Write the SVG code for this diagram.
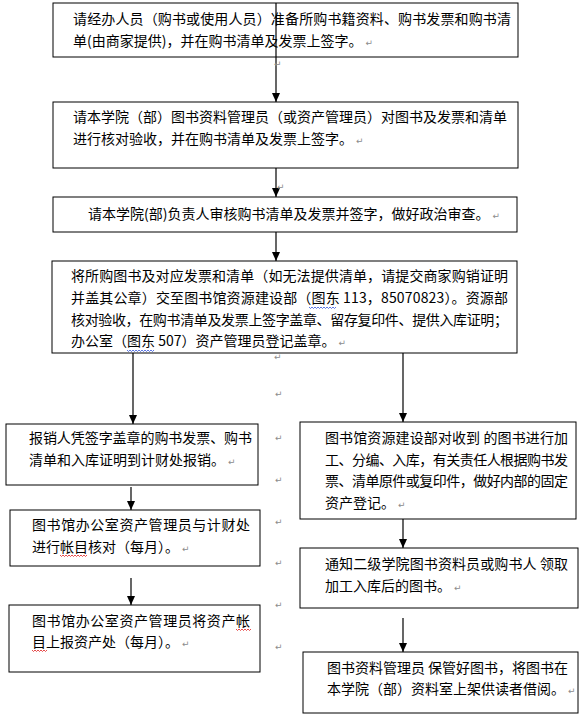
<svg xmlns="http://www.w3.org/2000/svg" width="580" height="717" viewBox="0 0 580 717">
<defs>
<style>
.box{fill:none;stroke:#000;stroke-width:1}
.t{font-family:"Noto Sans CJK SC","Liberation Sans",sans-serif;font-size:14px;fill:#000}
.pm{font-family:"DejaVu Sans",sans-serif;font-size:9px;fill:#8c8c8c}
.c{stroke:#000;stroke-width:1.2;fill:none}
.wb{stroke:#3355dd;stroke-width:0.8;fill:none}
.wr{stroke:#e02020;stroke-width:0.8;fill:none}
</style>
<marker id="ah" viewBox="0 0 9 8" markerUnits="userSpaceOnUse" markerWidth="9" markerHeight="8" refX="9" refY="4" orient="auto">
<path d="M0,0 L9,4 L0,8 z" fill="#000"/>
</marker>
</defs>
<rect width="580" height="717" fill="#fff"/>

<g id="connectors">
<line class="c" x1="276" y1="3" x2="276" y2="102" marker-end="url(#ah)"/>
<line class="c" x1="276" y1="168" x2="276" y2="197" marker-end="url(#ah)"/>
<line class="c" x1="276" y1="232" x2="276" y2="261" marker-end="url(#ah)"/>
<line class="c" x1="133" y1="353" x2="133" y2="424" marker-end="url(#ah)"/>
<line class="c" x1="403" y1="353" x2="403" y2="422" marker-end="url(#ah)"/>
<line class="c" x1="131" y1="487" x2="131" y2="510" marker-end="url(#ah)"/>
<line class="c" x1="131" y1="578" x2="131" y2="605" marker-end="url(#ah)"/>
<line class="c" x1="403" y1="519" x2="403" y2="548" marker-end="url(#ah)"/>
<line class="c" x1="403" y1="618" x2="403" y2="652" marker-end="url(#ah)"/>
</g>

<g id="marks">
<text class="pm" x="274" y="67">↵</text>
<text class="pm" x="277" y="190">↵</text>
<text class="pm" x="274" y="360">↵</text>
<text class="pm" x="275" y="397">↵</text>
<text class="pm" x="275" y="441">↵</text>
<text class="pm" x="275" y="483">↵</text>
<text class="pm" x="275" y="525">↵</text>
<text class="pm" x="275" y="566">↵</text>
<text class="pm" x="275" y="608">↵</text>
<text class="pm" x="275" y="650">↵</text>
</g>

<g id="n1">
<rect class="box" x="53" y="3" width="465" height="54"/>
<text class="t" x="73" y="24" textLength="438" lengthAdjust="spacing">请经办人员（购书或使用人员）准备所购书籍资料、购书发票和购书清</text>
<text class="t" x="73" y="46">单(由商家提供)，并在购书清单及发票上签字。<tspan class="pm" dx="3">↵</tspan></text>
</g>

<g id="n2">
<rect class="box" x="53" y="102" width="465" height="66"/>
<text class="t" x="73" y="122" textLength="434" lengthAdjust="spacing">请本学院（部）图书资料管理员（或资产管理员）对图书及发票和清单</text>
<text class="t" x="73" y="144">进行核对验收，并在购书清单及发票上签字。<tspan class="pm" dx="3">↵</tspan></text>
</g>

<g id="n3">
<rect class="box" x="53" y="197" width="464" height="35"/>
<text class="t" x="88" y="219">请本学院(部)负责人审核购书清单及发票并签字，做好政治审查。<tspan class="pm" dx="3">↵</tspan></text>
</g>

<g id="n4">
<rect class="box" x="52" y="261" width="465" height="92"/>
<text class="t" x="71" y="281" textLength="437" lengthAdjust="spacing">将所购图书及对应发票和清单（如无法提供清单，请提交商家购销证明</text>
<text class="t" x="71" y="303" textLength="437" lengthAdjust="spacing">并盖其公章）交至图书馆资源建设部（图东 113，85070823）。资源部</text>
<text class="t" x="71" y="325" textLength="437" lengthAdjust="spacing">核对验收，在购书清单及发票上签字盖章、留存复印件、提供入库证明；</text>
<text class="t" x="71" y="346">办公室（图东 507）资产管理员登记盖章。<tspan class="pm" dx="3">↵</tspan></text>
<path class="wb" d="M309,307 l1.5,1.5 l1.5,-1.5 l1.5,1.5 l1.5,-1.5 l1.5,1.5 l1.5,-1.5 l1.5,1.5 l1.5,-1.5 l1.5,1.5 l1.5,-1.5 l1.5,1.5 l1.5,-1.5 l1.5,1.5 l1.5,-1.5 l1.5,1.5 l1.5,-1.5 l1.5,1.5 l1.5,-1.5"/>
<path class="wb" d="M127,350 l1.5,1.5 l1.5,-1.5 l1.5,1.5 l1.5,-1.5 l1.5,1.5 l1.5,-1.5 l1.5,1.5 l1.5,-1.5 l1.5,1.5 l1.5,-1.5 l1.5,1.5 l1.5,-1.5 l1.5,1.5 l1.5,-1.5 l1.5,1.5 l1.5,-1.5 l1.5,1.5 l1.5,-1.5"/>
</g>

<g id="n5">
<rect class="box" x="6" y="424" width="252" height="61"/>
<text class="t" x="29" y="443" textLength="223" lengthAdjust="spacing">报销人凭签字盖章的购书发票、购书</text>
<text class="t" x="29" y="465">清单和入库证明到计财处报销。<tspan class="pm" dx="3">↵</tspan></text>
</g>

<g id="n6">
<rect class="box" x="10" y="510" width="250" height="56"/>
<text class="t" x="32" y="530" textLength="218" lengthAdjust="spacing">图书馆办公室资产管理员与计财处</text>
<text class="t" x="32" y="552">进行帐目核对（每月）。<tspan class="pm" dx="3">↵</tspan></text>
<path class="wr" d="M60,555 l1.5,1.5 l1.5,-1.5 l1.5,1.5 l1.5,-1.5 l1.5,1.5 l1.5,-1.5 l1.5,1.5 l1.5,-1.5 l1.5,1.5 l1.5,-1.5 l1.5,1.5 l1.5,-1.5 l1.5,1.5 l1.5,-1.5 l1.5,1.5 l1.5,-1.5 l1.5,1.5 l1.5,-1.5"/>
</g>

<g id="n7">
<rect class="box" x="9" y="605" width="251" height="67"/>
<text class="t" x="32" y="626" textLength="218" lengthAdjust="spacing">图书馆办公室资产管理员将资产帐</text>
<text class="t" x="32" y="647">目上报资产处（每月）。<tspan class="pm" dx="3">↵</tspan></text>
<path class="wr" d="M236,629 l1.5,1.5 l1.5,-1.5 l1.5,1.5 l1.5,-1.5 l1.5,1.5 l1.5,-1.5 l1.5,1.5 l1.5,-1.5 l1.5,1.5 l1.5,-1.5"/>
<path class="wr" d="M32,650 l1.5,1.5 l1.5,-1.5 l1.5,1.5 l1.5,-1.5 l1.5,1.5 l1.5,-1.5 l1.5,1.5 l1.5,-1.5 l1.5,1.5 l1.5,-1.5"/>
</g>

<g id="n8">
<rect class="box" x="300" y="422" width="276" height="97"/>
<text class="t" x="325" y="443" textLength="243" lengthAdjust="spacing">图书馆资源建设部对收到 的图书进行加</text>
<text class="t" x="325" y="465" textLength="243" lengthAdjust="spacing">工、分编、入库，有关责任人根据购书发</text>
<text class="t" x="325" y="486" textLength="243" lengthAdjust="spacing">票、清单原件或复印件，做好内部的固定</text>
<text class="t" x="325" y="508">资产登记。<tspan class="pm" dx="3">↵</tspan></text>
</g>

<g id="n9">
<rect class="box" x="300" y="548" width="278" height="60"/>
<text class="t" x="325" y="569" textLength="243" lengthAdjust="spacing">通知二级学院图书资料员或购书人 领取</text>
<text class="t" x="325" y="591">加工入库后的图书。<tspan class="pm" dx="3">↵</tspan></text>
</g>

<g id="n10">
<rect class="box" x="303" y="652" width="275" height="61"/>
<text class="t" x="327" y="673" textLength="241" lengthAdjust="spacing">图书资料管理员 保管好图书，将图书在</text>
<text class="t" x="327" y="694">本学院（部）资料室上架供读者借阅。<tspan class="pm" dx="3">↵</tspan></text>
</g>
</svg>
